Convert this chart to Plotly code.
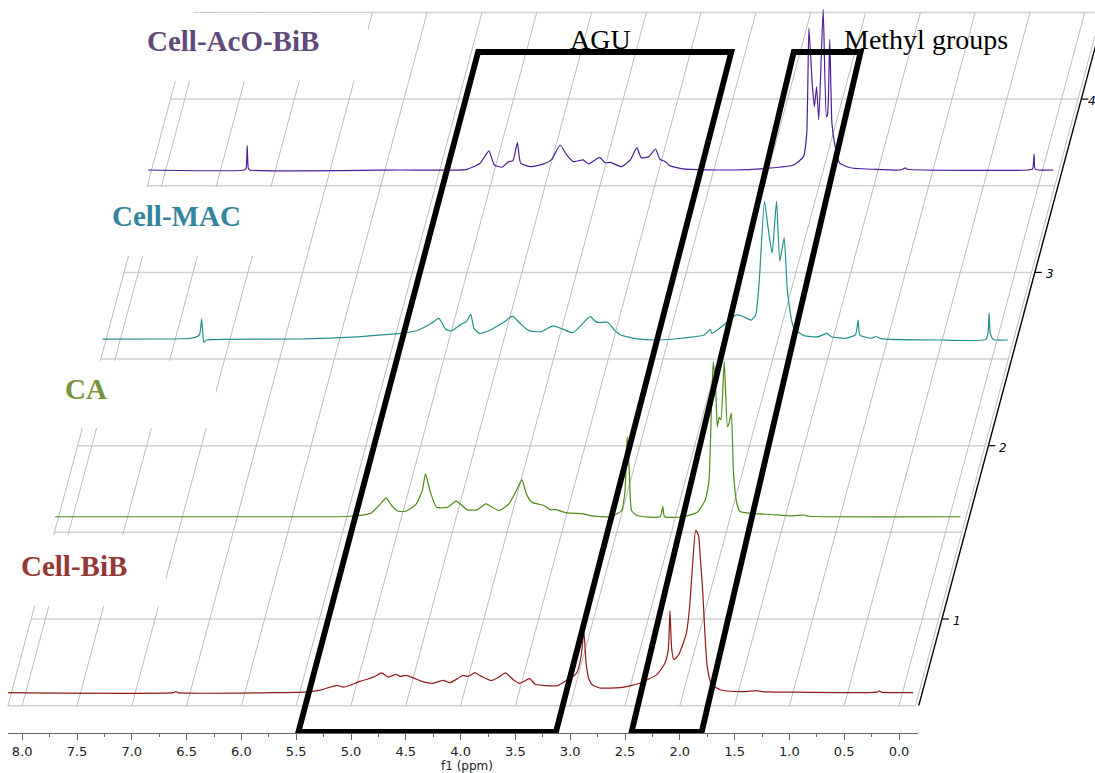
import plotly.graph_objects as go

# ---------------- spectra: chemical shift (ppm) / intensity (stack units) ----------------
bib_ppm = [8.13, 6.62, 6.60, 6.58, 5.70, 5.40, 5.28, 5.20, 5.13, 5.07, 5.02, 4.92, 4.84, 4.78,
           4.72, 4.66, 4.59, 4.55, 4.50, 4.43, 4.34, 4.25, 4.16, 4.10, 4.03, 3.98, 3.93, 3.87,
           3.81, 3.72, 3.65, 3.59, 3.52, 3.46, 3.37, 3.32, 3.25, 3.12, 3.03, 2.94, 2.90, 2.875,
           2.855, 2.83, 2.80, 2.73, 2.52, 2.36, 2.21, 2.135, 2.105, 2.09, 2.075, 2.055, 2.01,
           1.94, 1.91, 1.88, 1.855, 1.83, 1.815, 1.79, 1.77, 1.75, 1.71, 1.63, 1.54, 1.40,
           1.30, 1.25, 1.00, 0.20, 0.18, 0.16, -0.13]
bib_int = [0.0, 0.0, 0.006, 0.0, 0.0, 0.005, 0.015, 0.03, 0.042, 0.032, 0.04, 0.065, 0.08, 0.095,
           0.114, 0.09, 0.105, 0.094, 0.10, 0.085, 0.062, 0.054, 0.071, 0.058, 0.08, 0.10, 0.094, 0.115,
           0.094, 0.069, 0.09, 0.114, 0.075, 0.054, 0.081, 0.048, 0.042, 0.04, 0.071, 0.114, 0.21, 0.354,
           0.17, 0.08, 0.046, 0.027, 0.03, 0.056, 0.104, 0.171, 0.25, 0.473, 0.26, 0.19, 0.219,
           0.344, 0.5, 0.767, 0.937, 0.91, 0.80, 0.575, 0.33, 0.152, 0.046, 0.017, 0.008, 0.006,
           0.012, 0.006, 0.003, 0.003, 0.01, 0.003, 0.0]

ca_ppm = [8.13, 5.60, 5.44, 5.30, 5.25, 5.16, 5.11, 5.06, 5.00, 4.93, 4.84, 4.78, 4.75, 4.71,
          4.65, 4.55, 4.47, 4.37, 4.28, 4.20, 4.08, 3.99, 3.93, 3.87, 3.83, 3.78, 3.67, 3.61,
          3.57, 3.46, 3.31, 3.25, 3.06, 2.96, 2.93, 2.91, 2.89, 2.87, 2.82, 2.61, 2.585, 2.57,
          2.40, 2.27, 2.20, 2.165, 2.145, 2.125, 2.10, 2.088, 2.07, 2.055, 2.025, 1.995, 1.98,
          1.96, 1.94, 1.91, 1.88, 1.79, 1.60, 1.40, 1.30, 1.25, -0.13]
ca_int = [0.0, 0.0, 0.003, 0.012, 0.02, 0.074, 0.109, 0.065, 0.032, 0.032, 0.07, 0.151, 0.248, 0.151,
          0.055, 0.055, 0.09, 0.04, 0.04, 0.074, 0.036, 0.074, 0.141, 0.213, 0.132, 0.084, 0.065, 0.04,
          0.042, 0.022, 0.017, 0.007, 0.0, 0.036, 0.151, 0.463, 0.248, 0.036, 0.007, 0.0, 0.059, 0.0,
          0.0, 0.026, 0.094, 0.2, 0.55, 0.895, 0.70, 0.52, 0.574, 0.56, 0.895, 0.52, 0.54,
          0.60, 0.25, 0.078, 0.03, 0.02, 0.013, 0.005, 0.01, 0.003, 0.0]

mac_ppm = [8.13, 7.40, 7.30, 7.245, 7.225, 7.215, 7.205, 7.18, 7.00, 6.30, 5.80, 5.59, 5.41, 5.25,
           5.13, 5.06, 5.00, 4.95, 4.86, 4.81, 4.77, 4.74, 4.69, 4.59, 4.46, 4.39, 4.31, 4.24,
           4.13, 4.02, 3.93, 3.84, 3.76, 3.68, 3.63, 3.60, 3.52, 3.46, 3.40, 3.25, 3.06, 2.85,
           2.64, 2.585, 2.57, 2.46, 2.35, 2.30, 2.21, 2.17, 2.14, 2.09, 2.06, 2.02, 1.98, 1.95,
           1.91, 1.88, 1.82, 1.73, 1.60, 1.52, 1.48, 1.35, 1.26, 1.235, 1.22, 1.12, 1.07, 1.03,
           0.50, 0.07, 0.05, 0.04, 0.03, 0.00, -0.13]
mac_int = [0.005, 0.007, 0.012, 0.03, 0.121, 0.04, -0.013, 0.0, 0.004, 0.006, 0.018, 0.029, 0.038, 0.056,
           0.096, 0.125, 0.063, 0.052, 0.09, 0.106, 0.148, 0.067, 0.038, 0.058, 0.106, 0.138, 0.09, 0.054,
           0.048, 0.081, 0.063, 0.042, 0.087, 0.135, 0.106, 0.10, 0.102, 0.058, 0.029, 0.006, 0.0, 0.01,
           0.029, 0.061, 0.038, 0.087, 0.144, 0.14, 0.115, 0.144, 0.317, 0.80, 0.663, 0.50, 0.80, 0.455,
           0.59, 0.278, 0.067, 0.025, 0.019, 0.038, 0.019, 0.01, 0.03, 0.115, 0.03, 0.01, 0.02, 0.008,
           0.0, 0.003, 0.04, 0.156, 0.04, 0.003, 0.0]

aco_ppm = [8.13, 7.25, 7.235, 7.225, 7.215, 7.20, 5.83, 5.22, 5.10, 5.02, 4.97, 4.90, 4.84, 4.80,
           4.76, 4.73, 4.64, 4.52, 4.45, 4.37, 4.31, 4.25, 4.16, 4.11, 4.01, 3.96, 3.91, 3.81,
           3.73, 3.67, 3.63, 3.56, 3.50, 3.46, 3.41, 3.37, 3.25, 2.79, 2.48, 2.24, 2.15, 2.12,
           2.10, 2.07, 2.05, 2.03, 2.01, 1.97, 1.94, 1.93, 1.91, 1.89, 1.86, 1.82, 1.72, 1.27,
           1.24, 1.22, 1.20, 0.10, 0.06, 0.045, 0.035, -0.13]
aco_int = [0.0, 0.0, 0.01, 0.14, 0.01, 0.0, 0.0, 0.004, 0.039, 0.11, 0.029, 0.016, 0.048, 0.054,
           0.158, 0.039, 0.019, 0.035, 0.058, 0.144, 0.087, 0.048, 0.058, 0.035, 0.073, 0.042, 0.044, 0.019,
           0.058, 0.129, 0.071, 0.077, 0.121, 0.062, 0.048, 0.025, 0.006, 0.0, 0.01, 0.029, 0.077, 0.21,
           0.818, 0.50, 0.365, 0.48, 0.289, 0.927, 0.308, 0.317, 0.754, 0.269, 0.134, 0.039, 0.013, 0.0,
           0.006, 0.012, 0.004, 0.0, 0.005, 0.09, 0.005, 0.0]

sample_names = ["Cell-BiB", "CA", "Cell-MAC", "Cell-AcO-BiB"]
spectra_ppm = [bib_ppm, ca_ppm, mac_ppm, aco_ppm]
spectra_int = [bib_int, ca_int, mac_int, aco_int]

# axis ticks
ppm_ticks = [8.0, 7.5, 7.0, 6.5, 6.0, 5.5, 5.0, 4.5, 4.0, 3.5, 3.0, 2.5, 2.0, 1.5, 1.0, 0.5, 0.0]
stack_ticks = [1, 2, 3, 4]

# highlighted regions: ppm at the floor and ppm at the top edge of each frame
region_names = ["AGU", "Methyl groups"]
region_floor_ppm = [(5.48, 3.13), (2.44, 1.80)]
region_top_ppm = [(3.84, 1.53), (0.96, 0.35)]

# ---------------- styling / geometry ----------------
W, H = 1095, 773
PLOT_BOTTOM = 733                 # pixel row of the f1 axis
PX_PER_PPM = 109.6
ZERO_PPM_PX = 899.0
PX_PER_UNIT = 173.3
ZERO_UNIT_PY = 792.3
SLANT = 0.268                     # px to the right for each px up (oblique stacking)
SKEW = SLANT * PX_PER_UNIT / PX_PER_PPM   # ppm shift per stack unit

BASE = 0.575                      # baseline of the front spectrum
STACK_OFFSETS = [0.0, 1.015, 2.035, 3.016]
FLOOR, CEIL = 0.5, 4.5
FRAME_LEFT, FRAME_RIGHT = 8.13, -0.15

trace_colors = ["#8E1A1A", "#4E8A18", "#238F8F", "#4D1E98"]
label_colors = ["#953735", "#77933C", "#31859C", "#5F497A"]
GRID_SLANT = "#BDBDBD"
GRID_FLAT = "#D2D2D2"


def to_ppm(px):
    return (ZERO_PPM_PX - px) / PX_PER_PPM


def to_unit(py):
    return (ZERO_UNIT_PY - py) / PX_PER_UNIT


def skew(p, y):
    return p - SKEW * (y - FLOOR)


fig = go.Figure()

for name, ppm, inten, off, col in zip(sample_names, spectra_ppm, spectra_int, STACK_OFFSETS, trace_colors):
    fig.add_trace(go.Scatter(
        x=[p - SKEW * off for p in ppm],
        y=[BASE + off + v for v in inten],
        mode="lines", line=dict(color=col, width=1.2, shape="spline", smoothing=0.5),
        name=name, showlegend=False, hoverinfo="skip",
    ))

# carrier trace for the visible f1 axis
fig.add_trace(go.Scatter(x=[None], y=[None], xaxis="x2", yaxis="y",
                         showlegend=False, hoverinfo="skip"))

shapes = []
# horizontal grid planes
y = FLOOR
while y <= CEIL + 1e-9:
    shapes.append(dict(type="line", xref="x", yref="y", layer="below",
                       x0=skew(FRAME_LEFT, y), x1=skew(FRAME_RIGHT, y), y0=y, y1=y,
                       line=dict(color=GRID_FLAT, width=1.5)))
    y += 0.5
# oblique ppm grid
for p in ppm_ticks + [FRAME_LEFT, FRAME_RIGHT]:
    shapes.append(dict(type="line", xref="x", yref="y", layer="below",
                       x0=p, x1=skew(p, CEIL), y0=FLOOR, y1=CEIL,
                       line=dict(color=GRID_SLANT, width=1)))

# white panels behind the sample labels
label_panels = [(0, 166, 535, 606), (0, 216, 361, 428), (0, 285, 187, 256), (0, 368, 13, 81)]
for x0, x1, y0, y1 in label_panels:
    shapes.append(dict(type="rect", xref="x", yref="y", layer="below",
                       x0=to_ppm(x0 - 2), x1=to_ppm(x1), y0=to_unit(y1), y1=to_unit(y0),
                       fillcolor="white", line=dict(width=0)))

# oblique intensity axis on the right
AX_PPM = -0.18
shapes.append(dict(type="line", xref="x", yref="y", layer="above",
                   x0=AX_PPM, x1=skew(AX_PPM, 4.62), y0=FLOOR, y1=4.62,
                   line=dict(color="black", width=1.4)))
tick_len = 7 / PX_PER_PPM
for t in stack_ticks:
    xa = skew(AX_PPM, t)
    shapes.append(dict(type="line", xref="x", yref="y", layer="above",
                       x0=xa, x1=xa - tick_len, y0=t, y1=t,
                       line=dict(color="black", width=1.2)))

# highlighted regions
y_lo, y_hi = to_unit(732), to_unit(52)
for (fb, fa), (tb, ta) in zip(region_floor_ppm, region_top_ppm):
    path = f"M {fb},{y_lo} L {fa},{y_lo} L {ta},{y_hi} L {tb},{y_hi} Z"
    shapes.append(dict(type="path", xref="x", yref="y", layer="above", path=path,
                       line=dict(color="black", width=5.8)))

annotations = []
serif = "Liberation Serif, Times New Roman, serif"
label_pos = [(74, 566), (86, 389), (176, 216), (233, 41)]
for name, (lx, ly), col in zip(sample_names, label_pos, label_colors):
    annotations.append(dict(text=f"<b>{name}</b>", x=to_ppm(lx), y=to_unit(ly), xref="x", yref="y",
                            showarrow=False, font=dict(family=serif, size=29, color=col),
                            xanchor="center", yanchor="middle"))

for name, (lx, ly) in zip(region_names, [(600, 39), (926, 39)]):
    annotations.append(dict(text=name, x=to_ppm(lx), y=to_unit(ly), xref="x", yref="y",
                            showarrow=False, font=dict(family=serif, size=28, color="black"),
                            xanchor="center", yanchor="middle"))

for t in stack_ticks:
    xa = skew(AX_PPM, t) - tick_len - 2 / PX_PER_PPM
    # keep the top label inside the canvas
    xa = max(xa, to_ppm(W - 9))
    annotations.append(dict(text=f"<i>{t}</i>", x=xa, y=t, xref="x", yref="y",
                            showarrow=False, xanchor="left", yanchor="middle", yshift=-2,
                            font=dict(family="DejaVu Sans", size=12, color="black")))

annotations.append(dict(text="f1 (ppm)", x=to_ppm(467), y=0, xref="x", yref="paper",
                        showarrow=False, xanchor="center", yanchor="top", yshift=-24,
                        font=dict(family="DejaVu Sans", size=12, color="#222222")))

fig.update_layout(
    width=W, height=H,
    margin=dict(l=0, r=0, t=0, b=H - PLOT_BOTTOM),
    paper_bgcolor="white", plot_bgcolor="rgba(0,0,0,0)",
    xaxis=dict(range=[to_ppm(0), to_ppm(W)], visible=False, domain=[0, 1]),
    yaxis=dict(range=[to_unit(PLOT_BOTTOM), to_unit(0)], visible=False, domain=[0, 1]),
    xaxis2=dict(domain=[8 / W, 918 / W], range=[to_ppm(8), to_ppm(918)], anchor="y",
                showline=True, linecolor="#666666", linewidth=1.2,
                ticks="outside", ticklen=6, tickcolor="#666666", tickwidth=1,
                tickvals=ppm_ticks, ticktext=[f"{v:.1f}" for v in ppm_ticks],
                minor=dict(ticks="outside", ticklen=3, tickcolor="#666666", dtick=0.25, tick0=0),
                showgrid=False, zeroline=False,
                tickfont=dict(family="DejaVu Sans", size=13, color="#222222")),
    shapes=shapes,
    annotations=annotations,
    showlegend=False,
)

fig.write_html("out.html")
